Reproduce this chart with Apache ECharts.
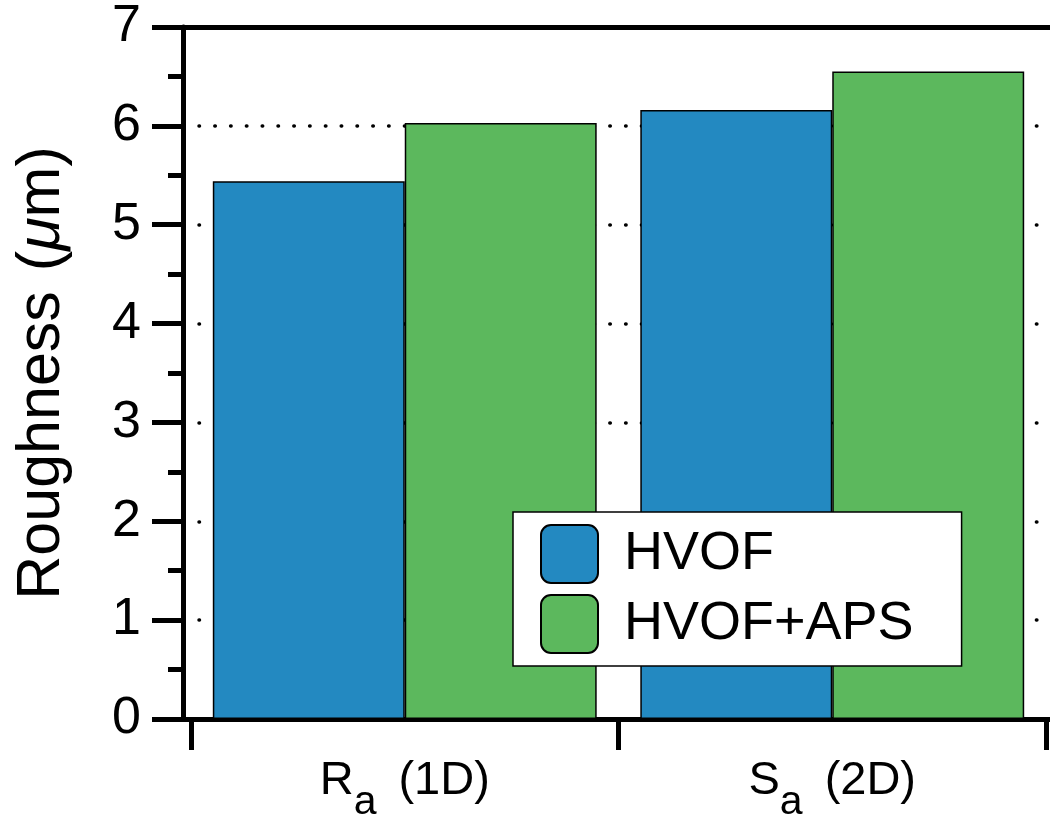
<!DOCTYPE html>
<html>
<head>
<meta charset="utf-8">
<script src="https://cdn.jsdelivr.net/npm/echarts@6/dist/echarts.min.js"></script>
<style>
html,body{margin:0;padding:0;background:#fff;}
#c{width:1050px;height:818px;}
</style>
</head>
<body>
<div id="c"></div>
<script>
// ---- data ----
var categories = ['Ra (1D)', 'Sa (2D)'];
var seriesNames = ['HVOF', 'HVOF+APS'];
var hvof = [5.44, 6.16];
var hvofAps = [6.03, 6.55];
var yTicks = [0, 1, 2, 3, 4, 5, 6, 7];

var FONT = '"Liberation Sans", Arial, Helvetica, sans-serif';
var BLUE = '#2389c1';
var GREEN = '#5cb85d';

var chart = echarts.init(document.getElementById('c'), null, {renderer: 'canvas'});

function catLabel(v) {
  return '{b|' + v.charAt(0) + '}{s|' + v.charAt(1) + '}{b|' + v.slice(3) + '}';
}

var option = {
  backgroundColor: '#fff',
  animation: false,
  textStyle: {fontFamily: FONT},
  grid: [
    {left: 183, right: 0, top: 27, bottom: 99, containLabel: false, outerBoundsMode: 'none'},
    {left: 191, right: 4, top: 27, bottom: 99, containLabel: false, outerBoundsMode: 'none'}
  ],
  legend: {
    orient: 'vertical',
    left: 513,
    top: 512,
    padding: [12, 48, 12, 27],
    itemWidth: 57,
    itemHeight: 58,
    itemGap: 10,
    icon: 'path://M10,0 H47 A10,10 0 0 1 57,10 V48 A10,10 0 0 1 47,58 H10 A10,10 0 0 1 0,48 V10 A10,10 0 0 1 10,0 Z',
    backgroundColor: '#fff',
    borderColor: '#000',
    borderWidth: 1.5,
    textStyle: {fontFamily: FONT, fontSize: 54, color: '#000', padding: [0, 0, 0, 21]},
    data: seriesNames
  },
  xAxis: [
    {
      gridIndex: 0, type: 'value', min: 0, max: 1, position: 'bottom',
      axisLine: {show: true, lineStyle: {color: '#000', width: 5}},
      axisTick: {show: false}, axisLabel: {show: false}, splitLine: {show: false}
    },
    {
      gridIndex: 1, type: 'category', data: categories, position: 'bottom',
      axisLine: {show: false},
      axisTick: {show: true, length: 31, inside: false, lineStyle: {color: '#000', width: 5}},
      axisLabel: {
        margin: 39,
        formatter: catLabel,
        rich: {
          b: {fontFamily: FONT, fontSize: 47, lineHeight: 50, color: '#000', verticalAlign: 'top'},
          s: {fontFamily: FONT, fontSize: 41, lineHeight: 40, color: '#000', verticalAlign: 'top', padding: [24, 22, 0, 0]}
        }
      },
      splitLine: {show: false}
    },
    {
      gridIndex: 0, type: 'value', min: 0, max: 1, position: 'top',
      axisLine: {show: true, lineStyle: {color: '#000', width: 5}},
      axisTick: {show: false}, axisLabel: {show: false}, splitLine: {show: false}
    }
  ],
  yAxis: [
    {
      gridIndex: 0, type: 'value', min: 0, max: 7, interval: 1,
      axisLine: {show: true, lineStyle: {color: '#000', width: 5}},
      axisTick: {show: true, length: 31, inside: false, lineStyle: {color: '#000', width: 5}},
      minorTick: {show: true, splitNumber: 2, length: 15, lineStyle: {color: '#000', width: 5}},
      axisLabel: {
        margin: 42, fontSize: 52, color: '#000', fontFamily: FONT,
        formatter: function (v) { return yTicks.indexOf(v) >= 0 ? String(v) : ''; }
      },
      splitLine: {show: false},
      name: '{t|Roughness}{t|(}{i|μ}{t|m)}',
      nameLocation: 'middle',
      nameGap: 110,
      nameTextStyle: {
        rich: {
          t: {fontFamily: FONT, fontSize: 61, color: '#000'},
          i: {fontFamily: FONT, fontSize: 61, color: '#000', fontStyle: 'italic'}
        }
      }
    },
    {
      gridIndex: 1, type: 'value', min: 0, max: 7, interval: 1,
      axisLine: {show: false}, axisTick: {show: false}, axisLabel: {show: false},
      splitLine: {
        show: true,
        lineStyle: {color: '#000', width: 3.5, type: [0.5, 15.3], cap: 'round', dashOffset: -8}
      }
    }
  ],
  series: [
    {
      name: seriesNames[0], type: 'bar', xAxisIndex: 1, yAxisIndex: 1,
      data: hvof, barGap: '0%', barCategoryGap: '10.2%',
      itemStyle: {color: BLUE, borderColor: '#000', borderWidth: 1.5}
    },
    {
      name: seriesNames[1], type: 'bar', xAxisIndex: 1, yAxisIndex: 1,
      data: hvofAps, barGap: '0%', barCategoryGap: '10.2%',
      itemStyle: {color: GREEN, borderColor: '#000', borderWidth: 1.5}
    }
  ]
};
// add a word space between "Roughness" and "(" via padding on the first token
option.yAxis[0].name = '{w|Roughness}{t|(}{i|μ}{t|m)}';
option.yAxis[0].nameTextStyle.rich.w = {fontFamily: FONT, fontSize: 61, color: '#000', padding: [0, 20, 0, 0]};
chart.setOption(option);
</script>
</body>
</html>
